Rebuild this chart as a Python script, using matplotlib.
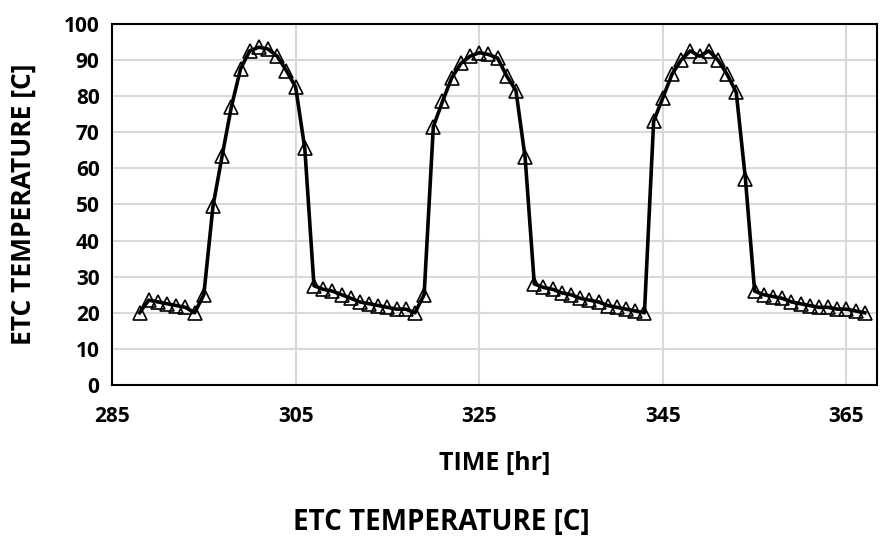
import numpy as np
import matplotlib.pyplot as plt

# hourly readings
time_hr = np.arange(288, 368)
temp_c = [
    20, 23.5, 23, 22.5, 22, 21.5, 20,                      # 288-294
    25, 49.5, 63.5, 77, 87.5, 92.5, 93.5, 93, 91, 87, 82.5, 65.5,  # 295-306
    27.5, 26.5, 26, 25, 24, 23, 22.5, 22, 21.5, 21, 21, 20,        # 307-318
    25, 71.5, 78.5, 85, 89, 91, 92, 91.5, 90.5, 85.5, 81.5, 63,    # 319-330
    28, 27, 26.5, 25.5, 25, 24, 23.5, 23, 22, 21.5, 21, 20.5, 20,  # 331-343
    73, 79.5, 86, 90, 92.5, 91, 92.5, 90, 86, 81, 57,              # 344-354
    26, 25, 24.5, 24, 23, 22.5, 22, 21.5, 21.5, 21, 21, 20.5, 20,  # 355-367
]
x_ticks = [285, 305, 325, 345, 365]
y_ticks = list(range(0, 101, 10))

plt.rcParams['font.family'] = ['Open Sans', 'DejaVu Sans']
plt.rcParams['font.weight'] = 'bold'

fig = plt.figure(figsize=(8.82, 5.4), dpi=100)
ax = fig.add_axes([0.127, 0.287, 0.867, 0.669])

ax.plot(time_hr, temp_c, color='black', lw=2.6, marker='^', ms=9.5,
        mfc='none', mec='black', mew=1.2, zorder=3)

ax.set_xlim(285, 368.3)
ax.set_ylim(0, 100)
ax.set_xticks(x_ticks)
ax.set_yticks(y_ticks)
ax.grid(True, color='#d9d9d9', lw=1.5)
ax.set_axisbelow(True)
ax.tick_params(length=0, labelsize=15)
ax.tick_params(axis='x', pad=15)
ax.tick_params(axis='y', pad=9)
for lab in ax.get_xticklabels() + ax.get_yticklabels():
    lab.set_fontweight('bold')
for sp in ax.spines.values():
    sp.set_color('black')
    sp.set_linewidth(1.5)

ax.set_xlabel('TIME [hr]', fontsize=18, fontweight='bold')
ax.xaxis.set_label_coords(0.5, -0.216)
ax.xaxis.label.set_va('center')
ax.set_ylabel('ETC TEMPERATURE [C]', fontsize=19, fontweight='bold')
ax.yaxis.set_label_coords(-0.116, 0.5)
ax.yaxis.label.set_va('center')
fig.text(0.5, 0.032, 'ETC TEMPERATURE [C]', ha='center', va='center',
         fontsize=20, fontweight='bold')

fig.savefig('out.png', dpi=100)
